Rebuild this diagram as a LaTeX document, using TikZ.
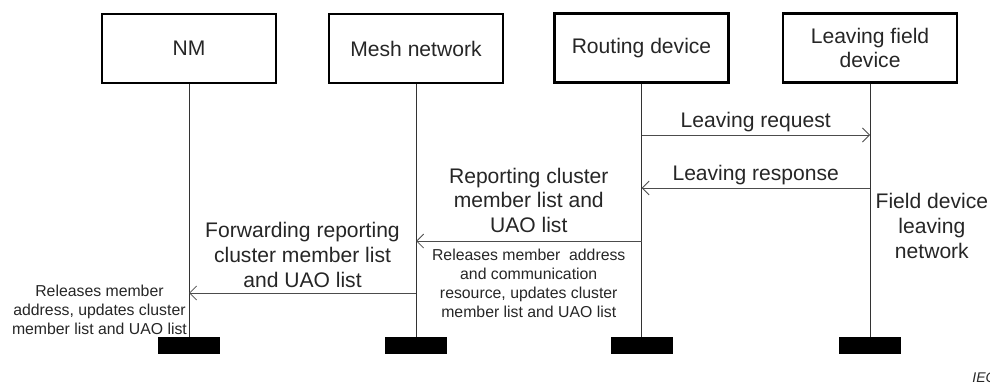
\documentclass[tikz,border=0pt]{standalone}
\usepackage{fontspec}
\setmainfont{Liberation Sans}
\usetikzlibrary{arrows.meta,positioning}
\tikzset{
  actor/.style={draw,line width=1.2pt,minimum width=3.48cm,minimum height=1.38cm,
    align=center,inner sep=2pt,font=\fontsize{12}{14}\selectfont,text=black!85},
  lifeline/.style={black!80,line width=0.5pt},
  endbar/.style={fill=black,draw=none,minimum width=1.24cm,minimum height=0.34cm,inner sep=0pt},
  msg/.style={black!70,line width=0.5pt,-{Straight Barb[length=4pt,width=8pt]}},
  biglbl/.style={font=\fontsize{12}{14}\selectfont,align=center,text=black!85,inner sep=1.5pt},
  smalllbl/.style={font=\fontsize{9}{10.8}\selectfont,align=center,text=black!85,inner sep=1.5pt},
}
\begin{document}
\begin{tikzpicture}[x=0.02cm,y=-0.02cm]
    \useasboundingbox (0,0) rectangle (990,385);
    % participants
    \node[actor] (nm) at (189,48.5) {NM};
    \node[actor] (mesh) at (416,48.5) {Mesh network};
    \node[actor] (rd) at (641.5,48) {Routing device};
    \node[actor] (lfd) at (870,48) {Leaving field\\device};
    % lifelines
    \coordinate (endy) at (0,337);
    \foreach \n in {nm,mesh,rd,lfd} {
        \draw[lifeline] (\n.south) -- (\n |- endy);
        \node[endbar,anchor=north] (\n bar) at (\n |- endy) {};
    }
    % messages
    \coordinate (reqy) at (0,135);
    \coordinate (respy) at (0,188);
    \coordinate (repy) at (0,241);
    \coordinate (fwdy) at (0,293);
    \draw[msg] (rd |- reqy) -- (lfd |- reqy) node[midway,above,biglbl] (reqlbl) {Leaving request};
    \draw[msg] (lfd |- respy) -- (rd |- respy) node[midway,above,biglbl] (resplbl) {Leaving response};
    \draw[msg] (rd |- repy) -- (mesh |- repy)
        node[midway,above=3pt,biglbl] (replbl) {Reporting cluster\\member list and\\UAO list}
        node[midway,below=3pt,smalllbl] (relrd) {Releases member\ \ address\\and communication\\resource, updates cluster\\member list and UAO list};
    \draw[msg] (mesh |- fwdy) -- (nm |- fwdy) node[midway,above=1.5pt,biglbl] (fwdlbl) {Forwarding reporting\\cluster member list\\and UAO list};
    % notes on lifelines
    \node[biglbl,anchor=north west,inner sep=3pt] (leavenote) at (lfd |- respy) {Field device\\leaving\\network};
    \node[smalllbl,anchor=south east,inner sep=1pt] (relnm) at (nm |- endy) {Releases member\\address, updates cluster\\member list and UAO list};
    \node[anchor=base west,inner sep=0pt,font=\fontsize{8}{9}\selectfont\itshape,text=black!85] (iec) at (972,382) {IEC};
\end{tikzpicture}
\end{document}
